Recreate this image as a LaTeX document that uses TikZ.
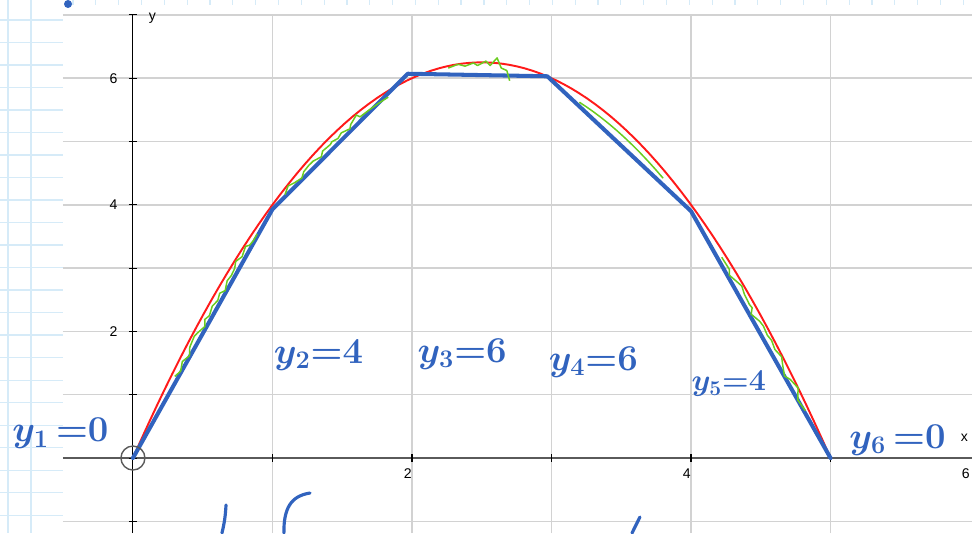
\documentclass[tikz,border=0pt]{standalone}
\usepackage{fontspec}
\setsansfont{Liberation Sans}
\usetikzlibrary{decorations.pathmorphing}
\definecolor{penblue}{HTML}{3163BE}
\definecolor{curvered}{HTML}{FF1A1A}
\definecolor{pengreen}{HTML}{6ACC1E}
\definecolor{gridgrey}{HTML}{D2D2D2}
\definecolor{axisgrey}{HTML}{5A5A5A}
\definecolor{paperblue}{HTML}{D6EBF8}
\begin{document}
\begin{tikzpicture}[x=2.79cm, y=1.266cm, font=\sffamily\fontsize{8}{9}\selectfont,
  paper/.style={paperblue, line width=0.7pt},
  gridline/.style={gridgrey, line width=0.8pt},
  pen/.style={penblue, line width=2.3pt, line cap=round, line join=round},
  squiggle/.style={pengreen, line width=0.85pt, decorate, decoration={random steps, segment length=4.5pt, amplitude=2.4pt}},
  hand/.style={penblue, font=\fontsize{22}{24}\selectfont\boldmath}]
  \useasboundingbox (-0.953,-1.185) rectangle (6.014,7.235);
  \begin{scope}[shift={(-0.953,7.235)}, x=0.02cm, y=-0.02cm]
    \foreach \k in {0,...,22} \draw[paper] (0,{20+22.5*\k}) -- (63,{20+22.5*\k});
    \draw[paper] (8,0) -- (8,533) (31,0) -- (31,533);
    \foreach \k in {0,...,39} \draw[paper] ({73+22.82*\k},0) -- ({73+22.82*\k},5);
    \fill[penblue] (68,4) circle[radius=0.08cm];
  \end{scope}
  \foreach \k in {-1,...,7} \draw[gridline] (-0.502,\k) -- (6.014,\k);
  \foreach \k in {1,...,5} \draw[gridline] (\k,-1.185) -- (\k,7);
  \draw[axisgrey, line width=0.9pt] (-0.502,0) -- (6.014,0);
  \draw[black, line width=0.6pt] (0,-1.185) -- (0,7);
  \foreach \k in {-1,...,7} \draw[black, line width=0.6pt] (-0.03,\k) -- (0.03,\k);
  \foreach \k in {1,...,5} \draw[black, line width=0.6pt] (\k,-0.06) -- (\k,0.06);
  \foreach \k in {2,4,6} {
    \node[anchor=east, inner sep=0pt] (ylab\k) at (-0.108,\k) {\k};
    \node[anchor=north east, inner sep=0pt] (xlab\k) at (\k,-0.17) {\k};
  }
  \node (yname) at (0.14,6.95) {y};
  \node (xname) at (5.96,0.316) {x};
  \draw[curvered, line width=1.1pt] plot[domain=0:5, samples=90] (\x,{\x*(5-\x)});
  \coordinate (p1) at (0,0);
  \coordinate (p2) at (1,3.93);
  \coordinate (p3) at (1.97,6.07);
  \coordinate (p4) at (2.97,6.03);
  \coordinate (p5) at (4,3.9);
  \coordinate (p6) at (5,0);
  \draw[pen] (p1) -- (p2) -- (p3) -- (p4) -- (p5) -- (p6);
  \draw[squiggle] plot[domain=0.3:0.89, samples=12] (\x,{\x*(5-\x)-0.12});
  \draw[squiggle] plot[domain=1.09:1.83, samples=12] (\x,{\x*(5-\x)-0.1});
  \draw[pengreen, line width=0.85pt, line join=round] (2.26,6.16) -- (2.33,6.22) -- (2.38,6.19) -- (2.44,6.24) -- (2.47,6.2) -- (2.53,6.27) -- (2.56,6.2) -- (2.61,6.32) -- (2.64,6.16) -- (2.68,6.12) -- (2.7,5.96);
  \draw[squiggle] plot[domain=3.2:3.8, samples=12] (\x,{\x*(5-\x)-0.14});
  \draw[squiggle] plot[domain=4.22:4.82, samples=12] (\x,{\x*(5-\x)-0.12});
  \draw[axisgrey, line width=0.8pt] (p1) circle[radius=0.24cm];
  \node[hand] (lab1) at (-0.52,0.39) {$y_1\,{=}0$};
  \node[hand] (lab2) at (1.33,1.63) {$y_2{=}4$};
  \node[hand] (lab3) at (2.36,1.64) {$y_3{=}6$};
  \node[hand] (lab4) at (3.3,1.52) {$y_4{=}6$};
  \node[hand, font=\fontsize{18}{20}\selectfont\boldmath] (lab5) at (4.27,1.17) {$y_5{=}4$};
  \node[hand] (lab6) at (5.48,0.28) {$y_6\,{=}0$};
  \draw[pen, line width=1.8pt] (0.667,-0.742) to[bend left=5] (0.638,-1.185);
  \draw[pen, line width=1.8pt] (1.269,-0.553) .. controls (1.13,-0.6) and (1.08,-0.8) .. (1.082,-1.185);
  \draw[pen, line width=1.8pt] (3.634,-0.932) -- (3.577,-1.185);
\end{tikzpicture}
\end{document}
